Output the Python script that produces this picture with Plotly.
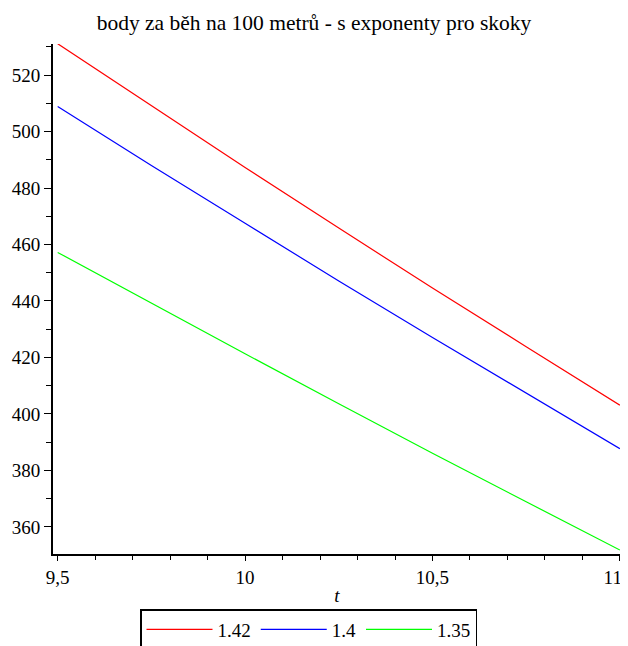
import plotly.graph_objects as go

t_values = [9.5, 9.75, 10.0, 10.25, 10.5, 10.75, 11.0]
points_142 = [531.1, 509.1, 487.3, 465.8, 444.6, 423.8, 403.1]
points_140 = [508.9, 488.0, 467.5, 447.1, 427.1, 407.3, 387.7]
points_135 = [457.2, 439.2, 421.3, 403.6, 386.1, 368.9, 351.8]
series_names = ["1.42", "1.4", "1.35"]
series_colors = ["#ff0000", "#0000ff", "#00ff00"]
x_tick_vals = [9.5, 10, 10.5, 11]
x_tick_text = ["9,5", "10", "10,5", "11&nbsp;&nbsp;&nbsp;"]
y_tick_vals = [360, 380, 400, 420, 440, 460, 480, 500, 520]

fig = go.Figure()
for name, ys, col in zip(series_names, [points_142, points_140, points_135], series_colors):
    fig.add_trace(go.Scatter(x=t_values, y=ys, mode="lines", name=name,
                             line=dict(color=col, width=1.2)))

serif = "Liberation Serif"
W, H = 620, 638
L, R, T, B = 45, 7, 36, 92
PW, PH = W - L - R, H - T - B
fig.update_layout(
    width=W, height=H,
    margin=dict(l=L, r=R, t=T, b=B, autoexpand=False),
    paper_bgcolor="white", plot_bgcolor="white",
    title=dict(text="body za běh na 100 metrů - s exponenty pro skoky",
               x=306 / W, xref="container", xanchor="center",
               y=1 - 14 / H, yref="container", yanchor="middle",
               font=dict(family=serif, size=21.5, color="black")),
    showlegend=True,
    legend=dict(orientation="h", x=(132 - L) / PW, xanchor="left",
                y=-(601 - (H - B)) / PH, yanchor="top",
                bordercolor="black", borderwidth=1.5, bgcolor="white",
                font=dict(family=serif, size=19, color="black"),
                itemwidth=66, tracegroupgap=0),
)
fig.update_xaxes(
    range=[9.4875, 11.003], showgrid=False, zeroline=False, automargin=False,
    showline=True, linecolor="black", linewidth=2,
    tickvals=x_tick_vals, ticktext=x_tick_text,
    ticks="outside", ticklen=5, tickwidth=1, tickcolor="black",
    ticklabelstandoff=0, ticklabeloverflow="allow",
    tickfont=dict(family=serif, size=19, color="black"),
    minor=dict(dtick=0.1, tick0=9.5, ticks="outside", ticklen=4, tickwidth=1, tickcolor="black"),
    title=dict(text="<i>t</i>", font=dict(family=serif, size=19, color="black"), standoff=2),
)
fig.update_yaxes(
    range=[350.4, 531.0], showgrid=False, zeroline=False, automargin=False,
    showline=True, linecolor="black", linewidth=2,
    tickvals=y_tick_vals,
    ticks="outside", ticklen=7, tickwidth=1, tickcolor="black",
    ticklabelstandoff=0, ticklabeloverflow="allow",
    tickfont=dict(family=serif, size=19, color="black"),
    minor=dict(dtick=10, tick0=350, ticks="outside", ticklen=5, tickwidth=1, tickcolor="black"),
)

fig.write_html("out.html")
